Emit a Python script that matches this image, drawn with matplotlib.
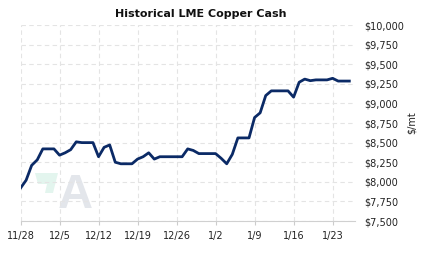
import matplotlib
matplotlib.use("Agg")
import matplotlib.pyplot as plt
from matplotlib.patches import Polygon

# Daily LME copper cash price, starting 11/28
days = list(range(60))
prices = [7920, 8020, 8210, 8280, 8420, 8420, 8420, 8340, 8370, 8410,
          8510, 8500, 8500, 8500, 8320, 8440, 8470, 8250, 8230, 8230,
          8230, 8290, 8320, 8370, 8290, 8320, 8320, 8320, 8320, 8320,
          8420, 8400, 8360, 8360, 8360, 8360, 8300, 8230, 8350, 8560,
          8560, 8560, 8820, 8880, 9100, 9160, 9160, 9160, 9160, 9080,
          9270, 9310, 9290, 9300, 9300, 9300, 9320, 9285, 9285, 9285]
tick_days = [0, 7, 14, 21, 28, 35, 42, 49, 56]
tick_labels = ["11/28", "12/5", "12/12", "12/19", "12/26", "1/2", "1/9", "1/16", "1/23"]
y_ticks = list(range(7500, 10001, 250))

W, H = 423, 257
fig = plt.figure(figsize=(W / 100, H / 100), dpi=100)
ax = fig.add_axes([0.0485, 0.14, 0.7905, 0.7627])

# watermark logo (decorative), behind the axes
logo_px = [(35, 173), (58, 173), (53, 193), (45, 193), (47, 184), (38, 184)]
fig.patches.append(Polygon([[x / W, 1 - y / H] for x, y in logo_px],
                           closed=True, transform=fig.transFigure, facecolor="#e3f5ee",
                           edgecolor="none", zorder=-2))
fig.text(75 / W, 1 - 208 / H, "A", fontsize=35, fontweight="bold", color="#e3e6eb",
         family="Liberation Sans", ha="center", va="baseline", zorder=-1)

ax.patch.set_alpha(0)
ax.plot(days, prices, color="#0b2a66", linewidth=2.0, solid_joinstyle="round", zorder=3)

ax.set_xlim(0, 60)
ax.set_ylim(7500, 10000)
ax.set_xticks(tick_days)
ax.set_xticklabels(tick_labels, fontsize=7, color="#222222")
ax.set_yticks(y_ticks)
ax.set_yticklabels([f"${v:,}" for v in y_ticks], fontsize=7, color="#222222")
ax.yaxis.tick_right()
ax.tick_params(axis="y", length=0, pad=7)
ax.tick_params(axis="x", length=3, color="#cccccc", pad=4)

ax.grid(True, color="#e4e4e4", linestyle=(0, (4, 3)), linewidth=0.8)
for s in ["top", "left", "right"]:
    ax.spines[s].set_visible(False)
ax.spines["bottom"].set_color("#d0d0d0")

fig.text(412 / W, 1 - 123 / H, "$/mt", fontsize=7, color="#222222",
         rotation=90, ha="center", va="center")

fig.text(0.475, 0.945, "Historical LME Copper Cash", fontsize=8, fontweight="bold",
         ha="center", va="center", color="#111111")

fig.savefig("out.png", dpi=100)
